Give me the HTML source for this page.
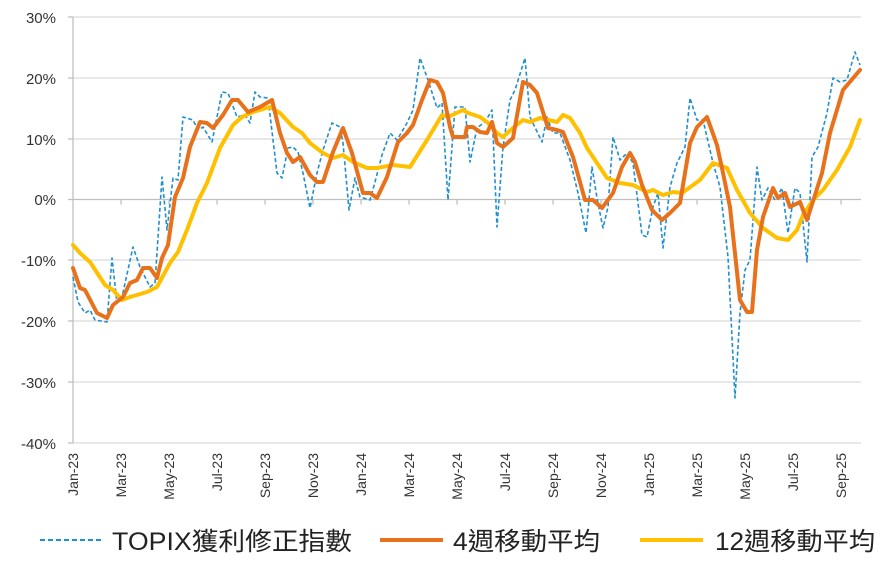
<!DOCTYPE html>
<html><head><meta charset="utf-8"><style>
html,body{margin:0;padding:0;background:#fff;}
svg{display:block;}
</style></head><body>
<svg width="891" height="562" viewBox="0 0 891 562" xmlns="http://www.w3.org/2000/svg" font-family="Liberation Sans, Noto Sans CJK TC, sans-serif">
<g stroke="#d9d9d9" stroke-width="1.3">
<line x1="73" y1="17" x2="861" y2="17"/>
<line x1="73" y1="78" x2="861" y2="78"/>
<line x1="73" y1="139" x2="861" y2="139"/>
<line x1="73" y1="260" x2="861" y2="260"/>
<line x1="73" y1="321" x2="861" y2="321"/>
<line x1="73" y1="382" x2="861" y2="382"/>
<line x1="73" y1="443" x2="861" y2="443"/>
</g>
<g stroke="#bfbfbf" stroke-width="1.3">
<line x1="73" y1="17" x2="73" y2="443"/>
<line x1="73" y1="199.5" x2="861" y2="199.5"/>
<line x1="68" y1="17" x2="73" y2="17"/><line x1="68" y1="78" x2="73" y2="78"/><line x1="68" y1="139" x2="73" y2="139"/><line x1="68" y1="199.5" x2="73" y2="199.5"/><line x1="68" y1="260" x2="73" y2="260"/><line x1="68" y1="321" x2="73" y2="321"/><line x1="68" y1="382" x2="73" y2="382"/><line x1="68" y1="443" x2="73" y2="443"/>
<path d="M121 199.5v5M169 199.5v5M217 199.5v5M265 199.5v5M313 199.5v5M361 199.5v5M409 199.5v5M457 199.5v5M505 199.5v5M553 199.5v5M601 199.5v5M649 199.5v5M697 199.5v5M745 199.5v5M793 199.5v5M841 199.5v5"/>
</g>
<g font-size="15" fill="#333" text-anchor="end">
<text x="56" y="23">30%</text><text x="56" y="84">20%</text><text x="56" y="145">10%</text><text x="56" y="205">0%</text>
<text x="56" y="266">-10%</text><text x="56" y="327">-20%</text><text x="56" y="388">-30%</text><text x="56" y="449">-40%</text>
</g>
<g font-size="14" fill="#333" text-anchor="end">
<text transform="translate(78,453) rotate(-90)">Jan-23</text>
<text transform="translate(126,453) rotate(-90)">Mar-23</text>
<text transform="translate(174,453) rotate(-90)">May-23</text>
<text transform="translate(222,453) rotate(-90)">Jul-23</text>
<text transform="translate(270,453) rotate(-90)">Sep-23</text>
<text transform="translate(318,453) rotate(-90)">Nov-23</text>
<text transform="translate(366,453) rotate(-90)">Jan-24</text>
<text transform="translate(414,453) rotate(-90)">Mar-24</text>
<text transform="translate(462,453) rotate(-90)">May-24</text>
<text transform="translate(510,453) rotate(-90)">Jul-24</text>
<text transform="translate(558,453) rotate(-90)">Sep-24</text>
<text transform="translate(606,453) rotate(-90)">Nov-24</text>
<text transform="translate(654,453) rotate(-90)">Jan-25</text>
<text transform="translate(702,453) rotate(-90)">Mar-25</text>
<text transform="translate(750,453) rotate(-90)">May-25</text>
<text transform="translate(798,453) rotate(-90)">Jul-25</text>
<text transform="translate(846,453) rotate(-90)">Sep-25</text>
</g>
<polyline fill="none" stroke="#1f8fcf" stroke-width="1.6" stroke-dasharray="4,2.5" stroke-linejoin="round" points="73,277 78,302 85,313 90,310 95,320 107,322 112,258 117,303 122,297 133,247 140,267 150,287 155,283 162,177 167,230 173,178 178,180 183,117 193,120 198,130 203,127 212,142 222,92 228,93 237,117 245,115 250,123 255,92 260,97 268,98 277,173 282,178 288,148 293,147 298,152 303,173 310,208 317,173 323,150 332,123 340,127 343,143 349,210 355,178 360,197 370,200 375,182 382,155 390,133 397,140 407,123 413,110 420,58 428,80 437,108 442,103 448,200 455,107 465,107 470,162 477,128 485,122 492,110 497,227 503,147 510,100 515,90 525,58 530,117 542,142 547,117 553,133 560,133 570,160 578,193 586,233 592,167 597,198 603,228 608,207 613,137 620,160 627,153 633,163 642,235 647,237 653,207 658,193 663,248 670,187 677,163 685,147 690,98 697,120 703,120 713,163 720,187 728,257 735,398 740,313 745,270 750,260 757,167 762,200 768,188 775,200 782,188 788,233 795,188 800,193 807,262 812,157 818,147 827,113 833,78 840,82 847,80 855,52 860,65"/>
<polyline fill="none" stroke="#ffc000" stroke-width="4" stroke-linejoin="round" stroke-linecap="round" points="73,245 80,253 90,262 105,285 113,290 122,300 130,297 147,292 157,287 170,263 178,252 187,230 197,203 207,183 220,148 233,125 242,117 253,112 270,107 280,113 293,127 302,133 310,143 323,153 333,158 343,155 353,162 367,168 377,168 393,165 410,167 427,140 442,115 448,117 463,110 468,113 480,117 487,122 497,133 503,137 513,128 523,120 530,122 540,118 557,122 563,115 570,118 580,133 587,148 597,163 607,178 620,183 633,185 647,192 653,190 663,195 673,192 682,193 700,180 713,163 727,168 737,190 750,213 763,228 777,238 788,240 797,230 803,215 813,200 823,190 837,170 850,147 860,120"/>
<polyline fill="none" stroke="#e8711c" stroke-width="4" stroke-linejoin="round" stroke-linecap="round" points="73,268 80,288 85,290 97,313 107,318 113,305 123,297 130,283 137,280 143,268 150,268 157,278 162,258 168,245 175,197 183,178 190,147 200,122 207,123 213,128 223,115 232,100 238,100 248,112 260,107 272,100 280,133 287,153 293,162 300,157 310,175 317,182 323,182 333,152 343,128 352,153 363,193 370,193 377,198 387,177 398,142 407,133 413,125 422,100 430,80 437,82 443,93 450,127 453,137 465,137 467,127 473,127 480,132 487,133 492,122 497,143 503,147 513,138 523,82 530,85 537,93 548,128 557,130 563,132 573,157 585,200 593,200 602,208 613,193 622,167 630,153 635,162 642,185 652,210 662,220 670,213 680,203 690,143 697,127 707,117 717,145 723,173 730,207 740,300 747,312 752,312 757,250 763,217 773,188 778,198 785,193 790,207 800,202 807,220 815,195 822,173 830,133 843,90 860,70"/>
<line x1="40" y1="540" x2="103" y2="540" stroke="#1f8fcf" stroke-width="2" stroke-dasharray="5,3"/>
<line x1="380" y1="540" x2="443" y2="540" stroke="#e8711c" stroke-width="4"/>
<line x1="640" y1="540" x2="703" y2="540" stroke="#ffc000" stroke-width="4"/>
<g font-size="25" fill="#222">
<text x="112" y="550" textLength="240" lengthAdjust="spacingAndGlyphs">TOPIX獲利修正指數</text>
<text x="453" y="550" textLength="147" lengthAdjust="spacingAndGlyphs">4週移動平均</text>
<text x="715" y="550" textLength="160" lengthAdjust="spacingAndGlyphs">12週移動平均</text>
</g>
</svg>
</body></html>
